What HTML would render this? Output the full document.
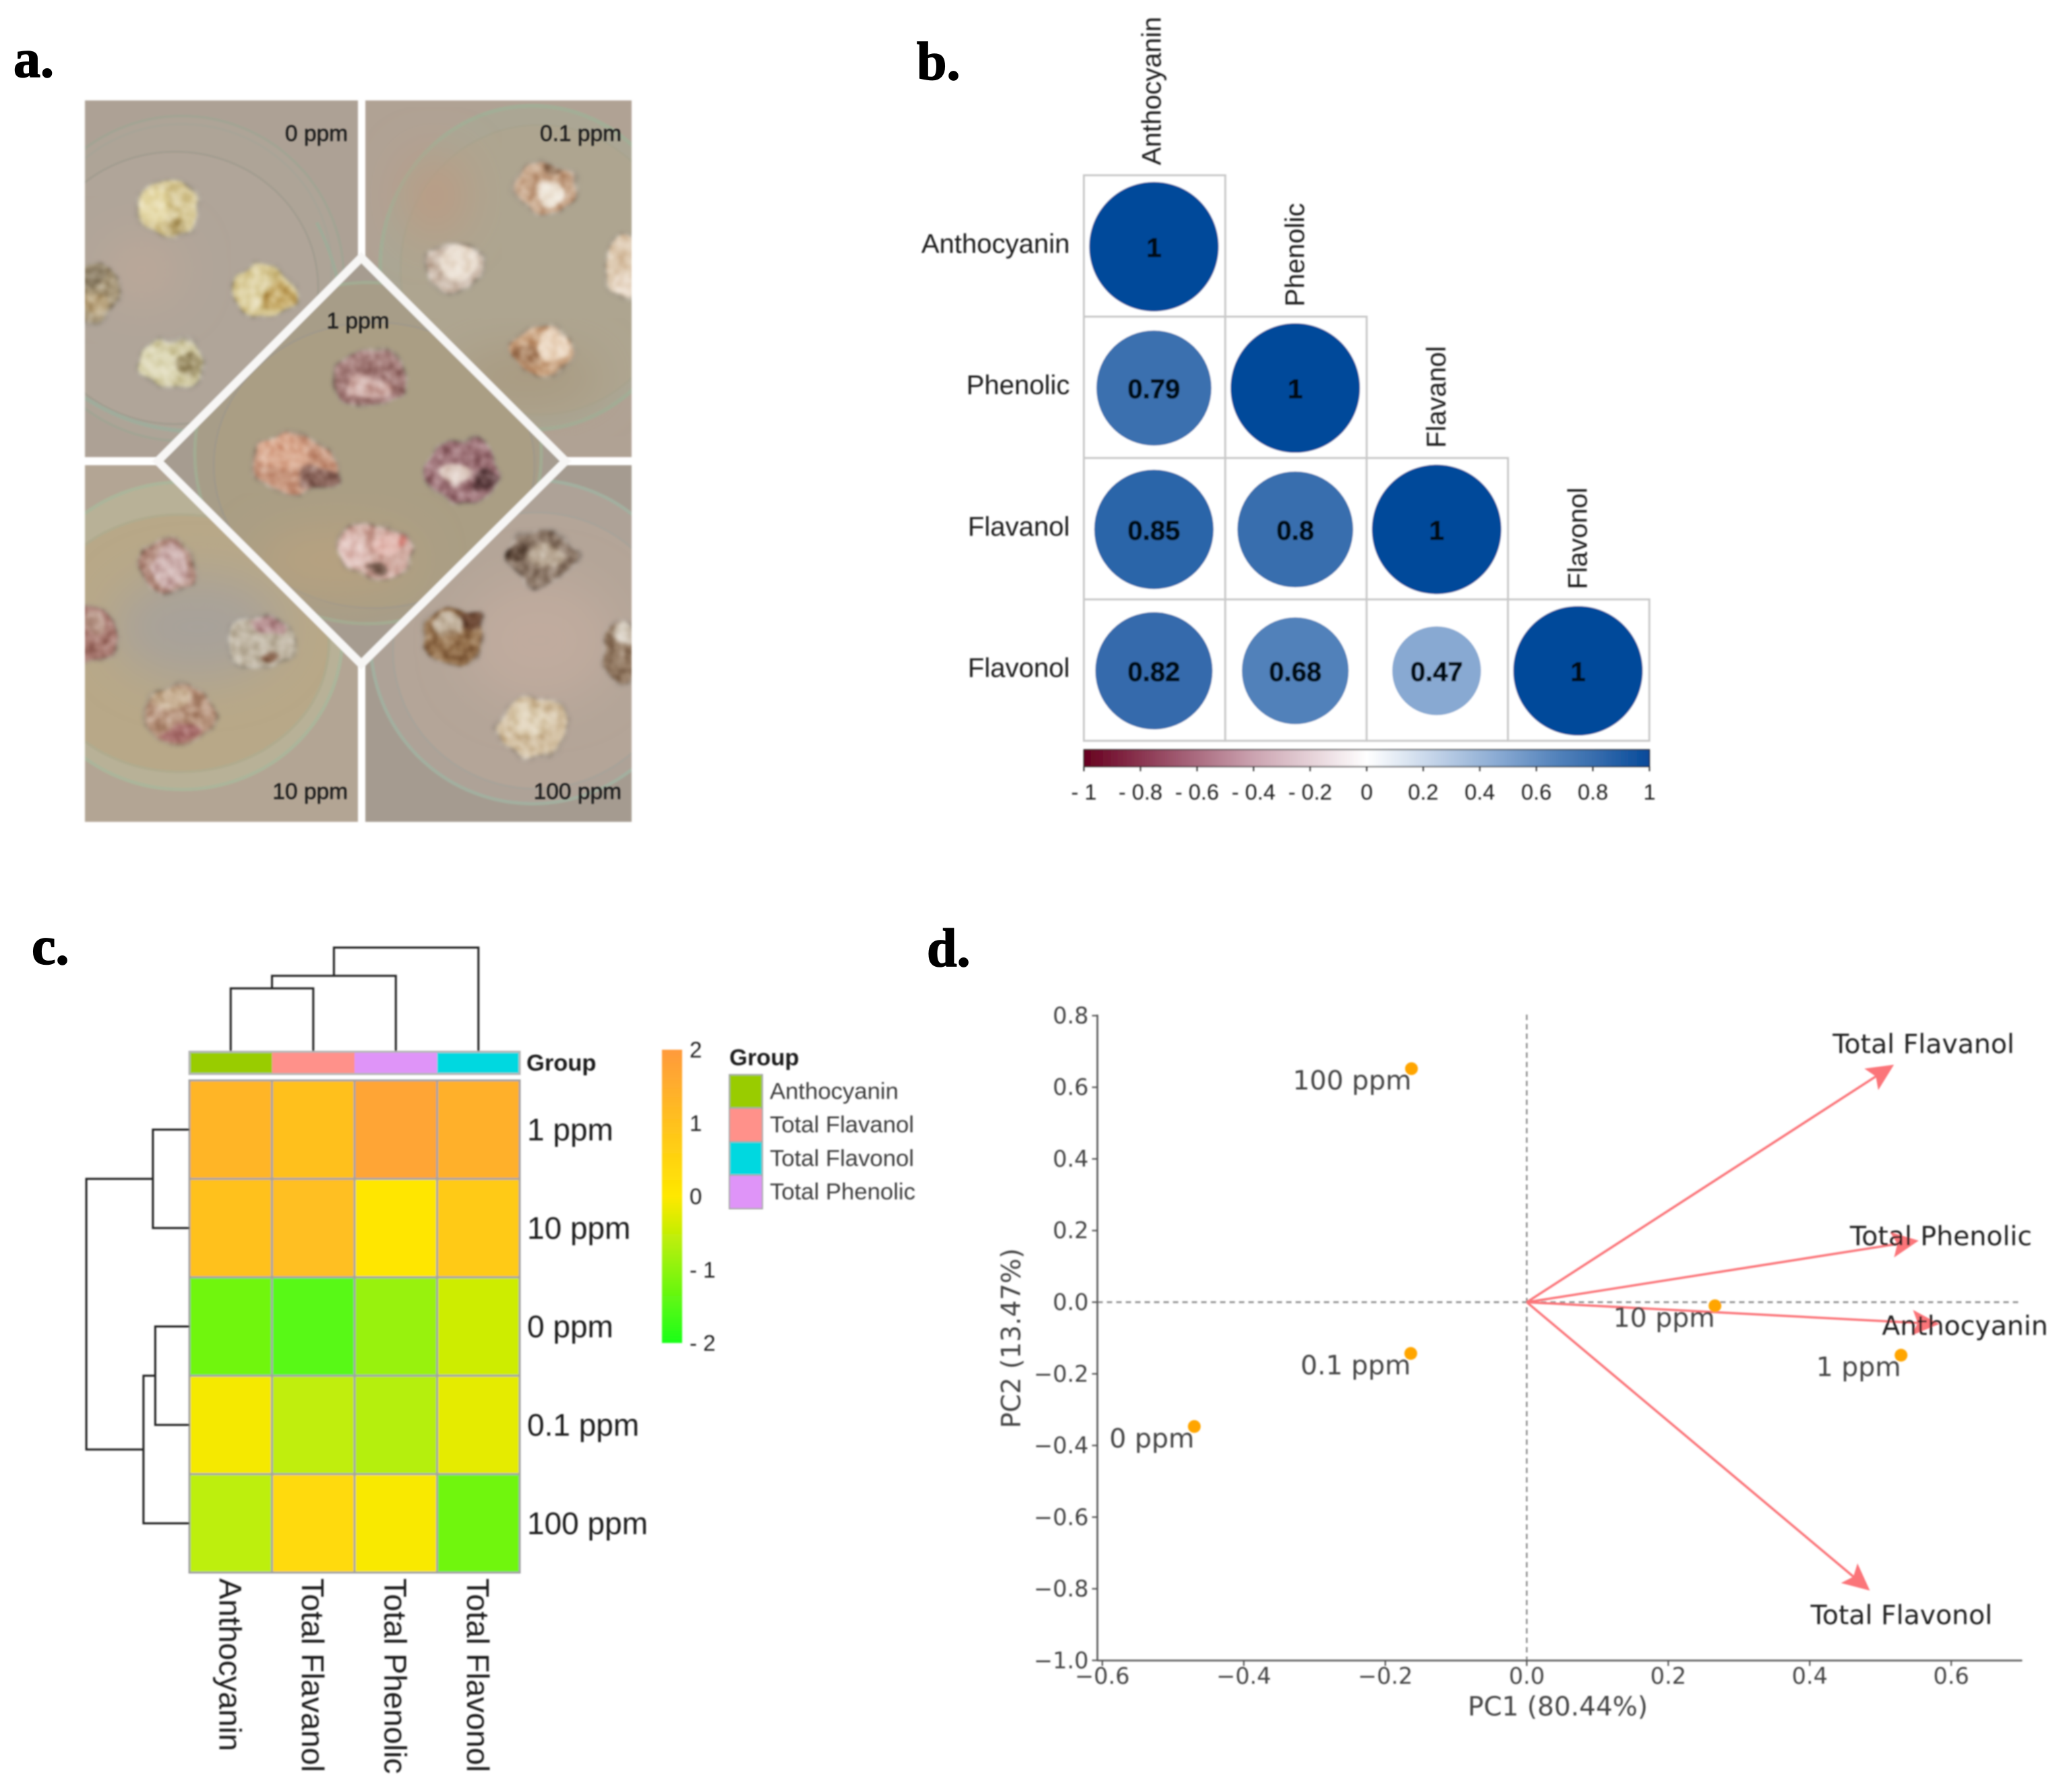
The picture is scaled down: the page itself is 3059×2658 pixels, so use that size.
<!DOCTYPE html>
<html lang="en">
<head>
<meta charset="utf-8">
<title>Callus anthocyanin figure</title>
<style>
html,body{margin:0;padding:0;background:#fff;width:3059px;height:2658px;overflow:hidden}
svg{display:block}
.ls{font-family:"Liberation Sans",sans-serif}
.dv{font-family:"DejaVu Sans",sans-serif}
.pl{font-family:"Liberation Serif",serif;font-weight:700;font-size:80px;fill:#000;stroke:#000;stroke-width:1.6px}
</style>
</head>
<body>
<svg id="fig" xmlns="http://www.w3.org/2000/svg" width="3059" height="2658" viewBox="0 0 3059 2658">
<defs>
<filter id="soft" filterUnits="userSpaceOnUse" x="0" y="0" width="3059" height="2658"><feGaussianBlur stdDeviation="1.1"/></filter>
<filter id="photoSoft" filterUnits="userSpaceOnUse" x="0" y="0" width="3059" height="2658"><feGaussianBlur stdDeviation="1.4"/></filter>
<filter id="rough" x="-30%" y="-30%" width="160%" height="160%" color-interpolation-filters="sRGB">
  <feGaussianBlur in="SourceGraphic" stdDeviation="2.5" result="b"/>
  <feTurbulence type="fractalNoise" baseFrequency=".022" numOctaves="2" seed="11" result="n"/>
  <feDisplacementMap in="b" in2="n" scale="26" xChannelSelector="R" yChannelSelector="G" result="d"/>
  <feTurbulence type="fractalNoise" baseFrequency=".07" numOctaves="2" seed="3" result="t"/>
  <feColorMatrix in="t" type="matrix" values="1.1 0 0 0 -.05  1.1 0 0 0 -.05  1.1 0 0 0 -.05  0 0 0 0 1" result="g"/>
  <feBlend in="g" in2="d" mode="soft-light" result="m"/>
  <feComposite in="m" in2="d" operator="in" result="c"/>
  <feGaussianBlur in="c" stdDeviation="2"/>
</filter>
<filter id="wash" x="-60%" y="-60%" width="220%" height="220%"><feGaussianBlur stdDeviation="34"/></filter>
<clipPath id="cTL"><rect x="126" y="149" width="405" height="529"/></clipPath>
<clipPath id="cTR"><rect x="542" y="149" width="395" height="529"/></clipPath>
<clipPath id="cBL"><rect x="126" y="690" width="405" height="529"/></clipPath>
<clipPath id="cBR"><rect x="542" y="690" width="395" height="529"/></clipPath>
<clipPath id="cDM"><polygon points="536,382 839,684 536,985 234,684"/></clipPath>
<linearGradient id="corrGrad" x1="0" x2="1" y1="0" y2="0"></linearGradient>
<linearGradient id="heatGrad" x1="0" x2="0" y1="1" y2="0"></linearGradient>
</defs>

<text class="pl" x="20" y="114">a.</text>
<text class="pl" x="1360" y="118">b.</text>
<text class="pl" x="47" y="1430">c.</text>
<text class="pl" x="1375" y="1433">d.</text>

<g id="photo" filter="url(#photoSoft)">
  <g clip-path="url(#cTL)">
    <rect x="126" y="149" width="405" height="529" fill="#ada195"/>
    <ellipse cx="270" cy="413" rx="240" ry="241" fill="#aea497" stroke="#a3a494" stroke-width="4"/>
    <ellipse cx="270" cy="398" rx="222" ry="214" fill="none" stroke="#a7a497" stroke-width="3"/>
    <ellipse cx="260" cy="427" rx="212" ry="202" fill="#b0a599" stroke="#a39d90" stroke-width="3"/>
    <ellipse cx="210" cy="400" rx="60" ry="50" fill="#bba799" filter="url(#wash)"/>
    <path d="M126 590 Q210 645 320 640" fill="none" stroke="#a0ac9b" stroke-width="6"/>
    <path d="M470 330 Q505 400 508 470" fill="none" stroke="#a0ab98" stroke-width="5"/>
    <g filter="url(#rough)"><ellipse cx="251" cy="308" rx="48" ry="42" fill="#d9cb9b"/><ellipse cx="228" cy="305" rx="22" ry="24" fill="#e7dcae"/><ellipse cx="258" cy="338" rx="14" ry="12" fill="#b9a56e"/></g>
    <g filter="url(#rough)"><ellipse cx="133" cy="433" rx="46" ry="42" fill="#a8987a"/><ellipse cx="135" cy="412" rx="24" ry="16" fill="#8d7f66"/><ellipse cx="142" cy="452" rx="20" ry="14" fill="#bba680"/></g>
    <g filter="url(#rough)"><ellipse cx="391" cy="433" rx="49" ry="40" fill="#d4c48e"/><ellipse cx="373" cy="430" rx="24" ry="28" fill="#dfd3a5"/><ellipse cx="415" cy="438" rx="20" ry="24" fill="#c6aa68"/></g>
    <g filter="url(#rough)"><ellipse cx="256" cy="537" rx="48" ry="39" fill="#d3cca6"/><ellipse cx="238" cy="540" rx="26" ry="28" fill="#dfdaba"/><ellipse cx="280" cy="541" rx="20" ry="17" fill="#a3966f"/></g>
  </g>
  <g clip-path="url(#cTR)">
    <rect x="542" y="149" width="395" height="529" fill="#b0a294"/>
    <ellipse cx="790" cy="397" rx="226" ry="240" fill="#aba694" stroke="#a3ad96" stroke-width="6"/>
    <ellipse cx="800" cy="400" rx="206" ry="215" fill="#aea590" stroke="#a8a48f" stroke-width="3"/>
    <ellipse cx="645" cy="290" rx="45" ry="60" fill="#bb9b84" filter="url(#wash)"/>
    <ellipse cx="780" cy="560" rx="110" ry="40" fill="#a89a80" filter="url(#wash)"/>
    <g filter="url(#rough)"><ellipse cx="811" cy="281" rx="48" ry="37" fill="#c9a88c"/><ellipse cx="814" cy="288" rx="23" ry="18" fill="#eee5d8"/><ellipse cx="820" cy="252" rx="14" ry="8" fill="#85644a"/></g>
    <g filter="url(#rough)"><ellipse cx="674" cy="398" rx="42" ry="39" fill="#cbb9aa"/><ellipse cx="680" cy="390" rx="27" ry="27" fill="#eadfd2"/></g>
    <g filter="url(#rough)"><ellipse cx="925" cy="398" rx="30" ry="48" fill="#dcc7ad"/><ellipse cx="925" cy="425" rx="16" ry="18" fill="#ecdfd0"/></g>
    <g filter="url(#rough)"><ellipse cx="806" cy="520" rx="45" ry="37" fill="#c9a27f"/><ellipse cx="820" cy="514" rx="24" ry="24" fill="#ecd9c4"/><ellipse cx="783" cy="528" rx="16" ry="14" fill="#a57b5a"/></g>
  </g>
  <g clip-path="url(#cBL)">
    <rect x="126" y="690" width="405" height="529" fill="#b3a594"/>
    <ellipse cx="270" cy="943" rx="238" ry="228" fill="#b8b197" stroke="#abb59a" stroke-width="5"/>
    <ellipse cx="268" cy="954" rx="220" ry="191" fill="#b8a888" stroke="#b0ab8e" stroke-width="4"/>
    <ellipse cx="293" cy="930" rx="125" ry="78" fill="#a8a29a" filter="url(#wash)"/>
    <g filter="url(#rough)"><ellipse cx="247" cy="841" rx="42" ry="40" fill="#ae8678"/><ellipse cx="254" cy="842" rx="25" ry="33" fill="#d0b4b2"/></g>
    <g filter="url(#rough)"><ellipse cx="133" cy="939" rx="44" ry="44" fill="#a87970"/><ellipse cx="138" cy="925" rx="18" ry="20" fill="#bc9c8e"/></g>
    <g filter="url(#rough)"><ellipse cx="387" cy="953" rx="50" ry="41" fill="#c2b8a6"/><ellipse cx="393" cy="927" rx="28" ry="14" fill="#b68f90"/><ellipse cx="403" cy="976" rx="14" ry="8" fill="#86604a"/></g>
    <g filter="url(#rough)"><ellipse cx="266" cy="1060" rx="51" ry="46" fill="#b8957e"/><ellipse cx="252" cy="1036" rx="28" ry="18" fill="#c6ad90"/><ellipse cx="266" cy="1088" rx="30" ry="12" fill="#a86e6c"/></g>
  </g>
  <g clip-path="url(#cBR)">
    <rect x="542" y="690" width="395" height="529" fill="#a59b90"/>
    <ellipse cx="790" cy="952" rx="240" ry="240" fill="#aea297" stroke="#a3af9f" stroke-width="5"/>
    <ellipse cx="795" cy="965" rx="212" ry="205" fill="#b4a598" stroke="#a8a399" stroke-width="3"/>
    <ellipse cx="800" cy="950" rx="110" ry="90" fill="#c0ab9e" filter="url(#wash)"/>
    <g filter="url(#rough)"><ellipse cx="805" cy="825" rx="56" ry="40" fill="#8f7b6b"/><ellipse cx="810" cy="826" rx="30" ry="18" fill="#b5a490"/><ellipse cx="765" cy="820" rx="15" ry="14" fill="#5b4638"/></g>
    <g filter="url(#rough)"><ellipse cx="672" cy="943" rx="47" ry="42" fill="#94704c"/><ellipse cx="700" cy="922" rx="19" ry="17" fill="#684430"/><ellipse cx="665" cy="927" rx="24" ry="16" fill="#c2b29d"/></g>
    <g filter="url(#rough)"><ellipse cx="925" cy="971" rx="31" ry="47" fill="#967d66"/><ellipse cx="929" cy="942" rx="17" ry="15" fill="#d8cfc2"/></g>
    <g filter="url(#rough)"><ellipse cx="790" cy="1079" rx="54" ry="50" fill="#d3c0a2"/><ellipse cx="782" cy="1066" rx="30" ry="26" fill="#dfd1b7"/></g>
  </g>
  <g clip-path="url(#cDM)">
    <rect x="234" y="382" width="606" height="604" fill="#a69c90"/>
    <ellipse cx="546" cy="672" rx="257" ry="253" fill="#a79d88" stroke="#a3aa92" stroke-width="5"/>
    <ellipse cx="555" cy="690" rx="238" ry="212" fill="#aa9e84" stroke="#a0998a" stroke-width="3"/>
    <ellipse cx="500" cy="830" rx="120" ry="45" fill="#b8a280" filter="url(#wash)"/>
    <g filter="url(#rough)"><ellipse cx="548" cy="562" rx="59" ry="41" fill="#a57d7a"/><ellipse cx="548" cy="572" rx="34" ry="18" fill="#d0aea8"/></g>
    <g filter="url(#rough)"><ellipse cx="437" cy="688" rx="62" ry="43" fill="#c9987f"/><ellipse cx="420" cy="672" rx="40" ry="24" fill="#d9a88e"/><ellipse cx="470" cy="708" rx="30" ry="20" fill="#8f6a60"/></g>
    <g filter="url(#rough)"><ellipse cx="687" cy="700" rx="55" ry="47" fill="#9f7479"/><ellipse cx="677" cy="708" rx="22" ry="15" fill="#e0cfc6"/><ellipse cx="720" cy="712" rx="18" ry="15" fill="#5d3e40"/></g>
    <g filter="url(#rough)"><ellipse cx="559" cy="817" rx="58" ry="41" fill="#d0aaa0"/><ellipse cx="524" cy="820" rx="22" ry="26" fill="#e2c4be"/><ellipse cx="574" cy="804" rx="24" ry="19" fill="#e3bab2"/><ellipse cx="556" cy="843" rx="13" ry="8" fill="#6f5548"/><ellipse cx="596" cy="802" rx="8" ry="8" fill="#cf7a70"/></g>
  </g>
  <polygon points="536,382 839,684 536,985 234,684" fill="none" stroke="#f7f6f5" stroke-width="12"/>
</g>
<g class="ls" font-size="33.5" fill="#1c1c1c" stroke="#1c1c1c" stroke-width=".5" filter="url(#soft)">
  <text x="516" y="209" text-anchor="end">0 ppm</text>
  <text x="922" y="209" text-anchor="end">0.1 ppm</text>
  <text x="531" y="487" text-anchor="middle">1 ppm</text>
  <text x="516" y="1185" text-anchor="end">10 ppm</text>
  <text x="922" y="1185" text-anchor="end">100 ppm</text>
</g>

<g id="panelB" class="ls" filter="url(#soft)"></g>
<g id="panelC" class="ls" filter="url(#soft)"></g>
<g id="panelD" class="dv" filter="url(#soft)"></g>
</svg>

<script>
/* ---------- panel b data ---------- */
const corrLabels = ['Anthocyanin', 'Phenolic', 'Flavanol', 'Flavonol'];
const corrRows = [
  [1],
  [0.79, 1],
  [0.85, 0.8, 1],
  [0.82, 0.68, 0.47, 1]
];
const corrTicks = [-1, -0.8, -0.6, -0.4, -0.2, 0, 0.2, 0.4, 0.6, 0.8, 1];
const corrScaleStops = [-1, -0.8, -0.4, 0, 0.47, 0.68, 0.8, 1];
const corrScaleColors = ['#67001f', '#8a3550', '#cba3b0', '#ffffff', '#88a9d2', '#5181ba', '#396eae', '#064a9a'];

/* ---------- panel c data ---------- */
const heatRowLabels = ['1 ppm', '10 ppm', '0 ppm', '0.1 ppm', '100 ppm'];
const heatColLabels = ['Anthocyanin', 'Total Flavanol', 'Total Phenolic', 'Total Flavonol'];
const heatCol0 = [1.3, 1.0, -1.25, -0.09, -0.58];
const heatCol1 = [1.02, 1.05, -1.46, -0.55, 0.35];
const heatCol2 = [1.72, 0.05, -0.9, -0.65, -0.05];
const heatCol3 = [1.43, 0.77, -0.44, -0.23, -1.25];
const heatTicks = [2, 1, 0, -1, -2];
const heatScaleStops = [-2, 0, 2];
const heatScaleColors = ['#1aff1a', '#ffe800', '#ff9a3c'];
const groupColors = ['#99cc00', '#ff918a', '#df94f8', '#00d8e0'];
const legendLabels = ['Anthocyanin', 'Total Flavanol', 'Total Flavonol', 'Total Phenolic'];
const legendColors = ['#99cc00', '#ff918a', '#00d8e0', '#df94f8'];
/* dendrogram merges: a and b are leaf indices or earlier merges (>= 100), h is tree height */
const colMerges = [{a:0,b:1,h:1.0},{a:100,b:2,h:1.2},{a:101,b:3,h:1.65}];
const rowMerges = [{a:0,b:1,h:0.62},{a:2,b:3,h:0.58},{a:101,b:4,h:0.78},{a:100,b:102,h:1.75}];

/* ---------- panel d data ---------- */
const pcaSamples = ['100 ppm', '0.1 ppm', '0 ppm', '10 ppm', '1 ppm'];
const pcaPc1 = [-0.163, -0.164, -0.47, 0.266, 0.529];
const pcaPc2 = [0.652, -0.143, -0.347, -0.01, -0.148];
const loadNames = ['Total Flavanol', 'Total Phenolic', 'Anthocyanin', 'Total Flavonol'];
const loadPc1 = [0.519, 0.554, 0.583, 0.485];
const loadPc2 = [0.663, 0.172, -0.061, -0.805];
const pcaXTicks = [-0.6, -0.4, -0.2, 0, 0.2, 0.4, 0.6];
const pcaYTicks = [0.8, 0.6, 0.4, 0.2, 0, -0.2, -0.4, -0.6, -0.8, -1];

const NS = 'http://www.w3.org/2000/svg';
function mk(parent, tag, attrs, text) {
  const e = document.createElementNS(NS, tag);
  for (const k in attrs) e.setAttribute(k, attrs[k]);
  if (text !== undefined) e.textContent = text;
  parent.appendChild(e);
  return e;
}
function hex(c) { return [1, 3, 5].map(i => parseInt(c.substr(i, 2), 16)); }
function scaleColor(stops, colors, v) {
  let i = 0;
  while (i < stops.length - 2 && v > stops[i + 1]) i++;
  const t = Math.max(0, Math.min(1, (v - stops[i]) / (stops[i + 1] - stops[i])));
  const a = hex(colors[i]), b = hex(colors[i + 1]);
  return 'rgb(' + a.map((x, j) => Math.round(x + (b[j] - x) * t)).join(',') + ')';
}

/* ========== panel b ========== */
(function () {
  const g = document.getElementById('panelB');
  const left = 1608, top = 260, cell = 209.7, maxR = 96;
  corrRows.forEach((row, r) => {
    const lab = mk(g, 'text', {x: 1587, y: top + cell * r + cell / 2 - 3, 'text-anchor': 'end', 'dominant-baseline': 'central', 'font-size': 40, fill: '#1c1c1c'}, corrLabels[r]);
    
    
    const cx0 = left + cell * r + cell / 2 - (r === 0 ? 4 : 1);
    const topLab = mk(g, 'text', {transform: 'translate(' + cx0 + ',' + (top + cell * r - 15) + ') rotate(-90)', 'dominant-baseline': 'central', 'font-size': 40, fill: '#1c1c1c'}, corrLabels[r]);
    
    
    row.forEach((v, c) => {
      const x = left + cell * c, y = top + cell * r;
      const box = mk(g, 'rect', {x: x, y: y, width: cell, height: cell, fill: '#fff', stroke: '#c9c9c9', 'stroke-width': 3});
      
      
      const circ = mk(g, 'circle', {cx: x + cell / 2 - 1, cy: y + cell / 2 + 1, r: maxR * Math.sqrt(Math.abs(v)), fill: scaleColor(corrScaleStops, corrScaleColors, v)});
      
      
      const val = mk(g, 'text', {x: x + cell / 2 - 1, y: y + cell / 2 + 3, 'text-anchor': 'middle', 'dominant-baseline': 'central', 'font-size': 40, 'font-weight': 700, fill: '#050a14', stroke: '#050a14', 'stroke-width': 0.9}, String(v));
      
      
    });
  });
  const grad = document.getElementById('corrGrad');
  corrScaleStops.forEach((s, i) => mk(grad, 'stop', {offset: (s + 1) / 2, 'stop-color': corrScaleColors[i]}));
  const bar = mk(g, 'rect', {x: 1608, y: 1112, width: 839, height: 25, fill: 'url(#corrGrad)', stroke: '#222', 'stroke-width': 1.5});
  
  
  corrTicks.forEach(t => {
    const x = 1608 + (t + 1) / 2 * 839;
    const tk = mk(g, 'line', {x1: x, x2: x, y1: 1137, y2: 1144, stroke: '#333', 'stroke-width': 2});
    
    
    const tl = mk(g, 'text', {x: x, y: 1175, 'text-anchor': 'middle', 'dominant-baseline': 'central', 'font-size': 32.5, fill: '#222'}, t < 0 ? '- ' + Math.abs(t) : String(t));
    
    
  });
})();

/* ========== panel c ========== */
(function () {
  const g = document.getElementById('panelC');
  const left = 281, top = 1602.5, cw = 122.5, ch = 146;
  const cols = [heatCol0, heatCol1, heatCol2, heatCol3];
  const colX = i => left + cw * i + cw / 2;
  const rowY = i => top + ch * i + ch / 2;
  cols.forEach((col, c) => {
    col.forEach((v, r) => {
      const cellR = mk(g, 'rect', {x: left + cw * c, y: top + ch * r, width: cw, height: ch, fill: scaleColor(heatScaleStops, heatScaleColors, v), stroke: '#a3a3a3', 'stroke-width': 3});
      
      
    });
    const gb = mk(g, 'rect', {x: left + cw * c, y: 1560, width: cw, height: 33, fill: groupColors[c]});
    
    
    const cl = mk(g, 'text', {transform: 'translate(' + (colX(c) - 1) + ',2341) rotate(90)', 'dominant-baseline': 'central', 'font-size': 46.6, fill: '#1c1c1c'}, heatColLabels[c]);
    
    
  });
  const gbBox = mk(g, 'rect', {x: left, y: 1560, width: cw * 4, height: 33, fill: 'none', stroke: '#b5b5b5', 'stroke-width': 3});
  
  
  heatRowLabels.forEach((t, r) => {
    const rl = mk(g, 'text', {x: 782, y: rowY(r), 'dominant-baseline': 'central', 'font-size': 46, fill: '#1c1c1c'}, t);
    
    
  });
  const grp = mk(g, 'text', {x: 781, y: 1577, 'dominant-baseline': 'central', 'font-size': 34.5, 'font-weight': 700, fill: '#1c1c1c'}, 'Group');
  
  

  /* dendrograms */
  function tree(merges, leafPos, depth, isTop) {
    const pos = {}, ht = {};
    const P = k => k >= 100 ? pos[k] : leafPos(k);
    const H = k => k >= 100 ? ht[k] : 0;
    merges.forEach((m, i) => {
      const id = 100 + i, pa = P(m.a), pb = P(m.b), da = depth(H(m.a)), db = depth(H(m.b)), d = depth(m.h);
      const path = isTop
        ? 'M' + pa + ' ' + da + 'V' + d + 'H' + pb + 'V' + db
        : 'M' + da + ' ' + pa + 'H' + d + 'V' + pb + 'H' + db;
      const seg = mk(g, 'path', {d: path, fill: 'none', stroke: '#222', 'stroke-width': 3});
      
      
      pos[id] = (pa + pb) / 2;
      ht[id] = m.h;
    });
  }
  tree(colMerges, colX, h => 1559 - h * 93, true);
  tree(rowMerges, rowY, h => 281 - h * 87.4, false);

  /* color scale */
  const grad = document.getElementById('heatGrad');
  heatScaleStops.forEach((s, i) => mk(grad, 'stop', {offset: (s + 2) / 4, 'stop-color': heatScaleColors[i]}));
  const bar = mk(g, 'rect', {x: 982, y: 1557, width: 30, height: 435, fill: 'url(#heatGrad)'});
  
  
  heatTicks.forEach(t => {
    const tl = mk(g, 'text', {x: 1023, y: 1557 + (2 - t) / 4 * 435, 'dominant-baseline': 'central', 'font-size': 33, fill: '#222'}, t < 0 ? '- ' + Math.abs(t) : String(t));
    
    
  });
  const lt = mk(g, 'text', {x: 1082, y: 1569, 'dominant-baseline': 'central', 'font-size': 34.5, 'font-weight': 700, fill: '#1c1c1c'}, 'Group');
  
  
  legendLabels.forEach((t, i) => {
    const y = 1594 + i * 49.7;
    const sw = mk(g, 'rect', {x: 1082, y: y, width: 49, height: 49.7, fill: legendColors[i], stroke: '#a8a8a8', 'stroke-width': 2});
    
    
    const tx = mk(g, 'text', {x: 1142, y: y + 25, 'dominant-baseline': 'central', 'font-size': 34.7, fill: '#3c3c3c'}, t);
    
    
  });
})();

/* ========== panel d ========== */
(function () {
  const g = document.getElementById('panelD');
  const X = v => 2265 + v * 1049.5;
  const Y = v => 1931.5 - v * 531.3;
  const fmt = v => v.toFixed(1).replace('-', '\u2212');
  const xMin = 1628, xMax = 3000, yTop = 1505, yBot = 2463;

  const hz = mk(g, 'line', {x1: xMin, x2: xMax, y1: Y(0), y2: Y(0), stroke: '#8a8a8a', 'stroke-width': 2.4, 'stroke-dasharray': '8 6'});
  
  
  const vt = mk(g, 'line', {x1: X(0), x2: X(0), y1: yTop, y2: yBot, stroke: '#8a8a8a', 'stroke-width': 2.4, 'stroke-dasharray': '8 6'});
  
  

  const sl = mk(g, 'line', {x1: xMin, x2: xMin, y1: yTop, y2: yBot, stroke: '#555', 'stroke-width': 2.6});
  
  
  const sb = mk(g, 'line', {x1: xMin, x2: xMax, y1: yBot, y2: yBot, stroke: '#555', 'stroke-width': 2.6});
  
  

  pcaXTicks.forEach(t => {
    const tk = mk(g, 'line', {x1: X(t), x2: X(t), y1: yBot, y2: yBot + 8, stroke: '#555', 'stroke-width': 2.2});
    
    
    const tl = mk(g, 'text', {x: X(t), y: 2486, 'text-anchor': 'middle', 'dominant-baseline': 'central', 'font-size': 33.5, fill: '#444'}, fmt(t));
    
    
  });
  pcaYTicks.forEach(t => {
    const tk = mk(g, 'line', {x1: xMin - 8, x2: xMin, y1: Y(t), y2: Y(t), stroke: '#555', 'stroke-width': 2.2});
    
    
    const tl = mk(g, 'text', {x: 1615, y: Y(t), 'text-anchor': 'end', 'dominant-baseline': 'central', 'font-size': 33.5, fill: '#444'}, fmt(t));
    
    
  });

  const xt = mk(g, 'text', {x: 2311, y: 2532, 'text-anchor': 'middle', 'dominant-baseline': 'central', 'font-size': 39, fill: '#444'}, 'PC1 (80.44%)');
  
  
  const yt = mk(g, 'text', {transform: 'translate(1501,1985) rotate(-90)', 'text-anchor': 'middle', 'dominant-baseline': 'central', 'font-size': 39, fill: '#444'}, 'PC2 (13.47%)');
  
  

  /* loading arrows */
  loadNames.forEach((n, i) => {
    const tx = X(loadPc1[i]), ty = Y(loadPc2[i]), ox = X(0), oy = Y(0);
    const len = Math.hypot(tx - ox, ty - oy), ux = (tx - ox) / len, uy = (ty - oy) / len;
    const bx = tx - ux * 40, by = ty - uy * 40, nx = tx - ux * 32, ny = ty - uy * 32;
    const shaft = mk(g, 'line', {x1: ox, y1: oy, x2: nx, y2: ny, stroke: '#fb7479', 'stroke-width': 3.4});
    
    
    const pts = [[tx, ty], [bx - uy * 19, by + ux * 19], [nx, ny], [bx + uy * 19, by - ux * 19]].map(p => p.join(',')).join(' ');
    const head = mk(g, 'polygon', {points: pts, fill: '#fb7479'});
    
    
  });
  /* loading labels: offset from the arrow tip */
  const loadLabelDx = [-91, -102, -85, -88];
  const loadLabelDy = [-30, -6, 3, 37];
  loadNames.forEach((n, i) => {
    const t = mk(g, 'text', {x: X(loadPc1[i]) + loadLabelDx[i], y: Y(loadPc2[i]) + loadLabelDy[i], 'dominant-baseline': 'central', 'font-size': 39.4, fill: '#222'}, n);
    
    
  });

  /* sample points */
  pcaSamples.forEach((s, i) => {
    const p = mk(g, 'circle', {cx: X(pcaPc1[i]), cy: Y(pcaPc2[i]), r: 9.5, fill: '#ffa500'});
    
    
    const t = mk(g, 'text', {x: X(pcaPc1[i]), y: Y(pcaPc2[i]) + 18, 'text-anchor': 'end', 'dominant-baseline': 'central', 'font-size': 39.4, fill: '#444'}, s);
    
    
  });
})();
</script>
</body>
</html>
